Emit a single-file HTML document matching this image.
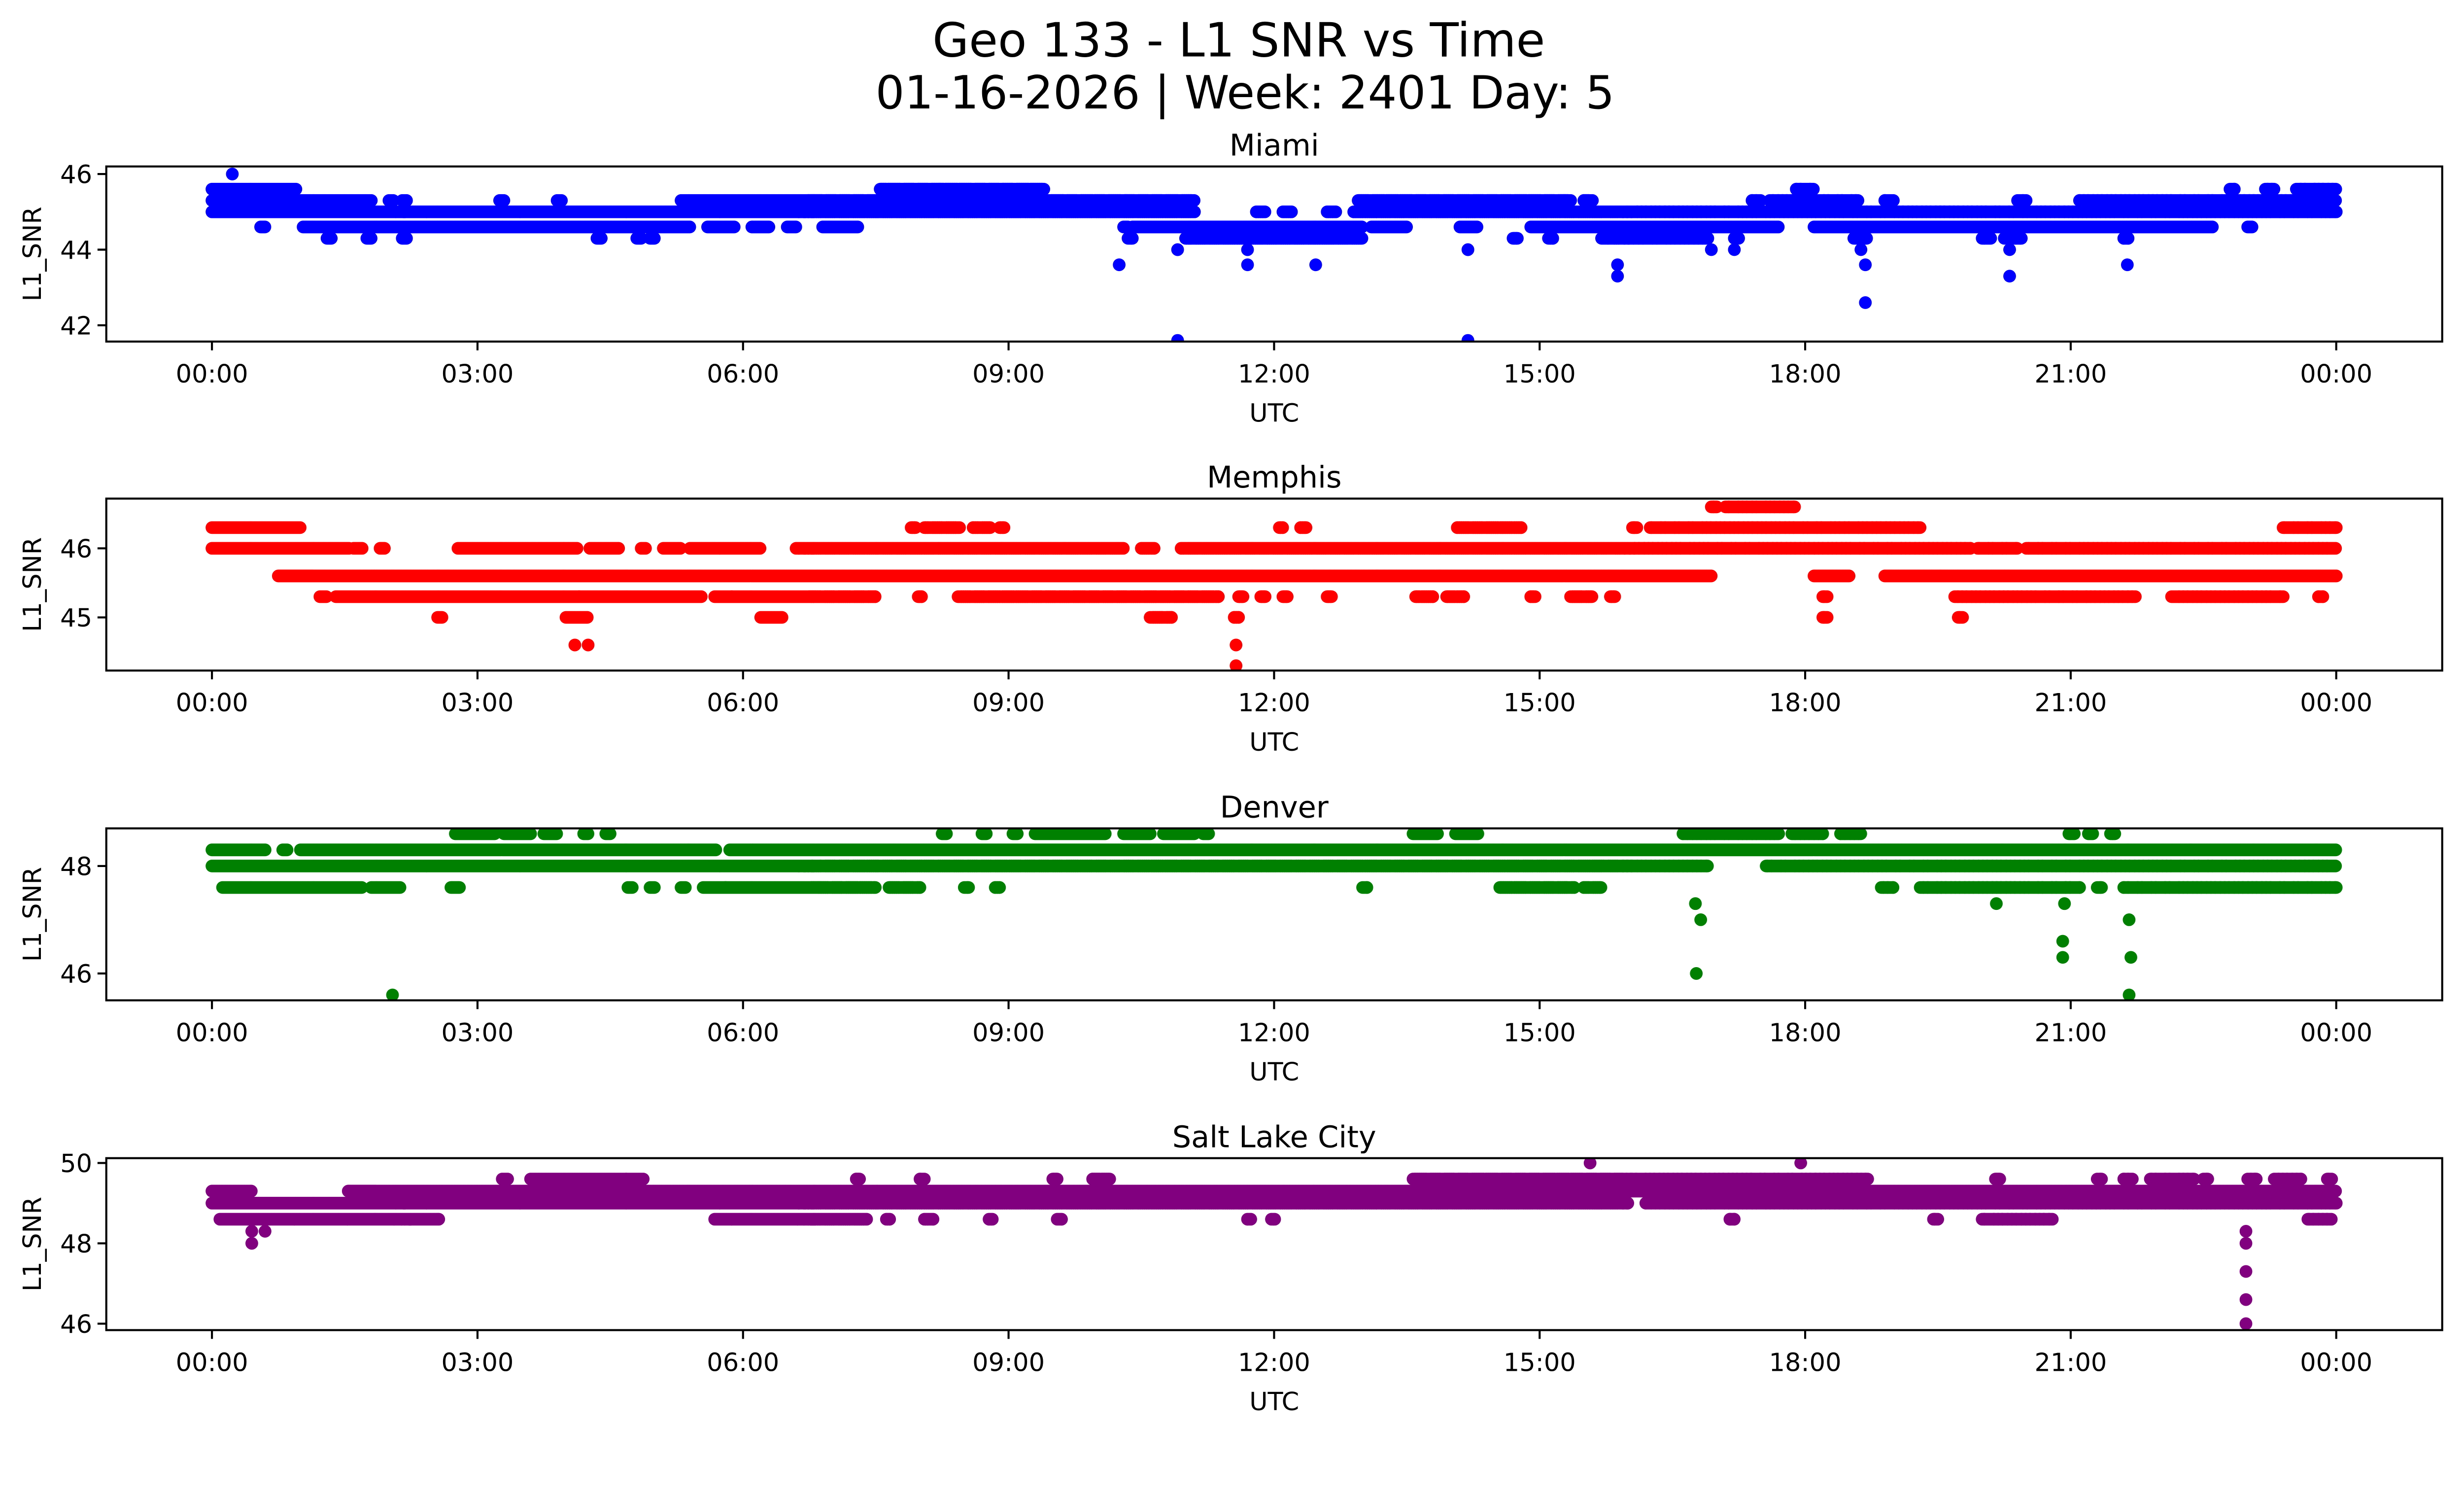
<!DOCTYPE html>
<html><head><meta charset="utf-8">
<style>
html,body{margin:0;padding:0;background:#fff;overflow:hidden;}
svg{display:block;}
text{font-family:"DejaVu Sans","Liberation Sans",sans-serif;fill:#000;}
</style></head>
<body>
<svg id="fig" xmlns="http://www.w3.org/2000/svg" width="5225" height="3033" viewBox="0 0 1640 952" preserveAspectRatio="none">
<rect x="0" y="0" width="1640" height="952" fill="#fff"/>
<text x="789" y="36" font-size="30" text-anchor="middle">Geo 133 - L1 SNR vs Time</text>
<text x="793" y="69" font-size="29" text-anchor="middle">01-16-2026 | Week: 2401 Day: 5</text>
</svg>
<script>
// ---- data (hours UTC, SNR) ----
const hourTicks = [0,3,6,9,12,15,18,21,24];
const hourTickLabels = ["00:00","03:00","06:00","09:00","12:00","15:00","18:00","21:00","00:00"];
const stations = ["Miami","Memphis","Denver","Salt Lake City"];
const colors = ["#0000ff","#ff0000","#008000","#800080"];
const yDomains = [[41.57,46.2],[44.23,46.72],[45.5,48.7],[45.84,50.12]];
const yTicks = [[42,44,46],[45,46],[46,48],[46,48,50]];
// runs: [level, startHour, endHour]
const miamiRuns = [[45.6,0,0.95],[45.6,7.55,9.4],[45.6,17.9,18.1],[45.6,22.8,22.85],[45.6,23.2,23.3],[45.6,23.55,24],
 [45.3,0,1.8],[45.3,2.0,2.05],[45.3,2.15,2.2],[45.3,3.25,3.3],[45.3,3.9,3.95],[45.3,5.3,11.1],[45.3,12.95,15.35],[45.3,15.5,15.6],[45.3,17.4,17.5],[45.3,17.6,18.6],[45.3,18.9,19.0],[45.3,20.4,20.5],[45.3,21.1,24],
 [45.0,0,11.1],[45.0,11.8,11.9],[45.0,12.1,12.2],[45.0,12.6,12.7],[45.0,12.9,24],
 [44.6,0.55,0.6],[44.6,1.03,5.4],[44.6,5.6,5.9],[44.6,6.1,6.3],[44.6,6.5,6.6],[44.6,6.9,7.3],[44.6,10.3,10.35],[44.6,10.4,13.0],[44.6,13.1,13.5],[44.6,14.1,14.3],[44.6,14.9,17.7],[44.6,18.1,22.6],[44.6,23.0,23.05],
 [44.3,1.3,1.35],[44.3,1.75,1.8],[44.3,2.15,2.2],[44.3,4.35,4.4],[44.3,4.8,4.85],[44.3,4.95,5.0],[44.3,10.35,10.4],[44.3,11.0,13.0],[44.3,14.7,14.75],[44.3,15.1,15.15],[44.3,15.7,16.9],[44.3,17.2,17.25],[44.3,18.55,18.7],[44.3,20.0,20.1],[44.3,20.25,20.45],[44.3,21.6,21.65]];
const miamiPoints = [[0.23,46.0],[10.91,44.0],[14.19,44.0],[16.94,44.0],[17.2,44.0],[18.63,44.0],[20.31,44.0],[11.7,44.0],
 [10.25,43.6],[11.7,43.6],[12.47,43.6],[15.88,43.6],[18.68,43.6],[21.64,43.6],[15.88,43.3],[20.31,43.3],[18.68,42.6],[10.91,41.6],[14.19,41.6]];
const memphisRuns = [[46.6,16.94,17.0],[46.6,17.1,17.88],
 [46.3,0,1.0],[46.3,7.9,7.95],[46.3,8.05,8.45],[46.3,8.6,8.8],[46.3,8.9,8.95],[46.3,12.06,12.1],[46.3,12.3,12.36],[46.3,14.07,14.8],[46.3,16.05,16.1],[46.3,16.25,19.3],
 [46.3,23.4,24],
 [46.0,0,1.55],[46.0,1.6,1.7],[46.0,1.9,1.95],[46.0,2.78,4.13],[46.0,4.27,4.6],[46.0,4.85,4.9],[46.0,5.1,5.3],[46.0,5.4,6.2],[46.0,6.6,10.3],[46.0,10.5,10.65],[46.0,10.95,19.87],[46.0,19.95,20.4],[46.0,20.5,24],
 [45.6,0.75,16.94],[45.6,18.1,18.5],[45.6,18.9,24],
 [45.3,1.22,1.3],[45.3,1.4,5.53],[45.3,5.68,7.5],[45.3,7.98,8.02],[45.3,8.43,11.37],[45.3,11.6,11.65],[45.3,11.85,11.9],[45.3,12.1,12.15],[45.3,12.6,12.65],[45.3,13.6,13.8],[45.3,13.95,14.15],[45.3,14.9,14.95],[45.3,15.35,15.6],[45.3,15.8,15.85],[45.3,18.2,18.25],[45.3,19.69,21.73],[45.3,22.14,23.4],[45.3,23.8,23.85],
 [45.0,2.55,2.6],[45.0,4.0,4.25],[45.0,6.2,6.45],[45.0,10.6,10.85],[45.0,11.55,11.6],[45.0,18.2,18.25],[45.0,19.73,19.78]];
const memphisPoints = [[4.1,44.6],[4.25,44.6],[11.57,44.6],[11.57,44.3]];
const denverRuns = [[48.6,2.75,3.2],[48.6,3.3,3.6],[48.6,3.75,3.9],[48.6,4.2,4.25],[48.6,4.45,4.5],[48.6,8.25,8.3],[48.6,8.7,8.75],[48.6,9.05,9.1],[48.6,9.3,10.1],[48.6,10.3,10.6],[48.6,10.75,11.1],[48.6,11.2,11.26],[48.6,13.57,13.85],[48.6,14.05,14.31],[48.6,16.62,17.7],[48.6,17.85,18.2],[48.6,18.4,18.63],[48.6,20.98,21.05],[48.6,21.2,21.25],[48.6,21.45,21.5],
 [48.3,0,0.6],[48.3,0.8,0.85],[48.3,1.0,5.7],[48.3,5.85,24],
 [48.0,0,16.9],[48.0,17.56,24],
 [47.6,0.12,1.7],[47.6,1.8,2.13],[47.6,2.7,2.8],[47.6,4.7,4.75],[47.6,4.95,5.0],[47.6,5.3,5.35],[47.6,5.55,7.5],[47.6,7.65,8.0],[47.6,8.5,8.55],[47.6,8.85,8.9],[47.6,13.0,13.05],[47.6,14.55,15.4],[47.6,15.5,15.7],[47.6,18.86,19.0],[47.6,19.3,21.1],[47.6,21.3,21.35],[47.6,21.6,24]];
const denverPoints = [[16.76,47.3],[20.16,47.3],[20.93,47.3],[16.82,47.0],[21.66,47.0],[20.91,46.6],[20.91,46.3],[21.68,46.3],[16.77,46.0],[2.04,45.6],[21.66,45.6]];
const slcRuns = [[49.6,3.28,3.35],[49.6,3.6,4.88],[49.6,7.28,7.32],[49.6,8.0,8.05],[49.6,9.5,9.55],[49.6,9.95,10.15],[49.6,13.57,18.71],[49.6,20.15,20.2],[49.6,21.3,21.35],[49.6,21.6,21.7],[49.6,21.9,22.4],[49.6,22.5,22.55],[49.6,23.0,23.1],[49.6,23.3,23.6],[49.6,23.9,23.95],
 [49.3,0,0.45],[49.3,1.54,24],
 [49.0,0,16.0],[49.0,16.2,24],
 [48.6,0.09,2.57],[48.6,5.68,7.4],[48.6,7.62,7.66],[48.6,8.05,8.15],[48.6,8.78,8.82],[48.6,9.55,9.6],[48.6,11.7,11.74],[48.6,11.97,12.01],[48.6,17.15,17.2],[48.6,19.45,19.5],[48.6,20.0,20.8],[48.6,23.68,23.95]];
const slcPoints = [[15.57,50.0],[17.95,50.0],[0.45,48.3],[0.6,48.3],[0.45,48.0],[22.98,48.3],[22.98,48.0],[22.98,47.3],[22.98,46.6],[22.98,46.0]];
const allRuns = [miamiRuns, memphisRuns, denverRuns, slcRuns];
const allPoints = [miamiPoints, memphisPoints, denverPoints, slcPoints];
const sampleStep = 0.012; // hours between samples (~43 s)

// ---- layout ----
const NS = "http://www.w3.org/2000/svg";
const svg = document.getElementById("fig");
const axL = 67.7, axR = 1555.5;
const axTops = [106, 317.5, 527.5, 737.5];
const axH = 109.5;
const x0 = 135.0, xPerHour = 56.375;
function xScale(h){ return x0 + h * xPerHour; }
function mk(tag, attrs, parent){ const e = document.createElementNS(NS, tag); for (const k in attrs) e.setAttribute(k, attrs[k]); (parent||svg).appendChild(e); return e; }

stations.forEach((name, i) => {
  const top = axTops[i], bot = (i === 0 ? 217.5 : top + axH);
  const hh = bot - top;
  const [d0, d1] = yDomains[i];
  const yScale = v => bot - (v - d0) / (d1 - d0) * hh;
  const g = mk("g", {});
  
  
  const cp = mk("clipPath", {id: "clip" + i}, g);
  mk("rect", {x: axL, y: top, width: axR - axL, height: hh}, cp);
  const pg = mk("g", {"clip-path": "url(#clip" + i + ")", fill: colors[i]}, g);
  
  
  const pts = [];
  allRuns[i].forEach(r => { for (let h = r[1]; h <= r[2] + 1e-9; h += sampleStep) pts.push([h, r[0]]); });
  allPoints[i].forEach(p => pts.push(p));
  let dpath = "";
  const rr = 4.05;
  pts.forEach(p => {
    const cx = xScale(p[0]), cy = yScale(p[1]);
    dpath += "M" + (cx - rr).toFixed(2) + " " + cy.toFixed(2) + "a" + rr + " " + rr + " 0 1 0 " + (2*rr) + " 0a" + rr + " " + rr + " 0 1 0 " + (-2*rr) + " 0";
  });
  const path = mk("path", {d: dpath}, pg);
  
  
  const fr = mk("rect", {x: axL, y: top, width: axR - axL, height: hh, fill: "none", stroke: "#000", "stroke-width": 1.3}, g);
  
  
  hourTicks.forEach((h, k) => {
    const x = xScale(h);
    const t = mk("line", {x1: x, x2: x, y1: bot, y2: bot + 5.6, stroke: "#000", "stroke-width": 1.3}, g);
    
    
    const lb = mk("text", {x: x, y: bot + 26, "font-size": 16, "text-anchor": "middle"}, g);
    lb.textContent = hourTickLabels[k];
    
    
  });
  yTicks[i].forEach(v => {
    const y = yScale(v);
    const t = mk("line", {x1: axL - 5.6, x2: axL, y1: y, y2: y, stroke: "#000", "stroke-width": 1.3}, g);
    
    
    const lb = mk("text", {x: axL - 9, y: y + 5.8, "font-size": 16, "text-anchor": "end"}, g);
    lb.textContent = String(v);
    
    
  });
  const title = mk("text", {x: (axL + axR) / 2, y: top - 7, "font-size": 19, "text-anchor": "middle"}, g);
  title.textContent = name;
  
  
  const xl = mk("text", {x: (axL + axR) / 2, y: bot + 51, "font-size": 16, "text-anchor": "middle"}, g);
  xl.textContent = "UTC";
  
  
  const cy = top + hh / 2;
  const yl = mk("text", {x: 0, y: 0, "font-size": 16, "text-anchor": "middle", transform: "translate(26," + cy + ") rotate(-90)"}, g);
  yl.textContent = "L1_SNR";
  
  
});
</script>
</body></html>
